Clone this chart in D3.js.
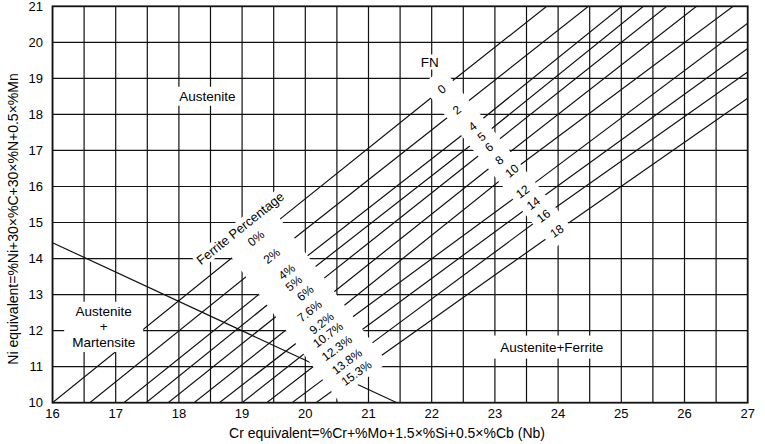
<!DOCTYPE html>
<html>
<head>
<meta charset="utf-8">
<script src="https://cdn.jsdelivr.net/npm/d3@7"></script>
<style>
  html, body { margin: 0; padding: 0; background: #fff; }
  svg { display: block; font-family: "Liberation Sans", Arial, Helvetica, sans-serif; }
</style>
</head>
<body>
<div id="chart"></div>
<script>
const width = 765;
const height = 444;

// axis ticks
const crTicks = d3.range(16, 28);   // Cr equivalent 16..27
const niTicks = d3.range(10, 22);   // Ni equivalent 10..21

// iso-ferrite lines, labelled in FN and in ferrite percentage
const fnLabels = ["0", "2", "4", "5", "6", "8", "10", "12", "14", "16", "18"];
const pctLabels = ["0%", "2%", "4%", "5%", "6%", "7.6%", "9.2%", "10.7%", "12.3%", "13.8%", "15.3%"];

// Cr eq where each line leaves the bottom edge (Ni eq = 10)
const lineStartCr = [16.00, 16.59, 17.13, 17.48, 17.83, 18.24, 18.64, 19.00, 19.39, 19.79, 20.17];
// point on each line where the % label sits
const pctPoints = [[19.22, 14.56], [19.47, 14.07], [19.71, 13.63], [19.82, 13.31], [20.00, 13.04],
  [20.07, 12.54], [20.26, 12.20], [20.36, 11.88], [20.50, 11.51], [20.66, 11.14], [20.81, 10.82]];
// point on each line where the FN label sits
const fnPoints = [[22.16, 18.70], [22.40, 18.12], [22.65, 17.66], [22.79, 17.38], [22.91, 17.09],
  [23.07, 16.73], [23.27, 16.43], [23.44, 15.85], [23.61, 15.53], [23.77, 15.18], [23.98, 14.76]];
// where each line leaves the chart (top or right edge)
const lineEnds = [[23.82, 21], [24.48, 21], [25.01, 21], [25.35, 21], [25.72, 21], [26.19, 21],
  [26.77, 21], [27, 20.53], [27, 19.83], [27, 19.18], [27, 18.45]];

// austenite / austenite+martensite boundary
const martensiteLine = [[16, 14.44], [21.45, 10]];

// phase region labels
const regions = [
  { lines: ["Austenite"], cr: 18.45, ni: 18.51, padX: 3, padY: 3 },
  { lines: ["Austenite", "+", "Martensite"], cr: 16.81, ni: 12.11, padX: 8, padY: 3 },
  { lines: ["Austenite+Ferrite"], cr: 23.90, ni: 11.55, padX: 7, padY: 5 }
];

const svg = d3.select("#chart")
  .append("svg")
  .attr("width", width)
  .attr("height", height);

svg.append("rect").attr("width", width).attr("height", height).attr("fill", "#fff");

const x = d3.scaleLinear().domain([16, 27]).range([52.5, 747.7]);
const y = d3.scaleLinear().domain([10, 21]).range([402.7, 6.3]);

svg.append("clipPath").attr("id", "plot-clip")
  .append("rect")
  .attr("x", x(16)).attr("y", y(21))
  .attr("width", x(27) - x(16)).attr("height", y(10) - y(21));

const plot = svg.append("g").attr("clip-path", "url(#plot-clip)");

// grid
plot.selectAll(".vgrid")
  .data(d3.range(16, 27.01, 0.5))
  .enter().append("line")
  .attr("x1", d => x(d)).attr("x2", d => x(d))
  .attr("y1", y(10)).attr("y2", y(21))
  .attr("stroke", "#111").attr("stroke-width", 1.2);

plot.selectAll(".hgrid")
  .data(niTicks)
  .enter().append("line")
  .attr("x1", x(16)).attr("x2", x(27))
  .attr("y1", d => y(d)).attr("y2", d => y(d))
  .attr("stroke", "#111").attr("stroke-width", 1.2);

// iso-ferrite lines
const line = d3.line().x(d => x(d[0])).y(d => y(d[1]));
const isoLines = fnLabels.map((fn, i) => [[lineStartCr[i], 10], pctPoints[i], fnPoints[i], lineEnds[i]]);

plot.selectAll(".iso")
  .data(isoLines)
  .enter().append("path")
  .attr("d", line)
  .attr("fill", "none")
  .attr("stroke", "#111").attr("stroke-width", 1.2);

plot.append("path")
  .attr("d", line(martensiteLine))
  .attr("fill", "none")
  .attr("stroke", "#111").attr("stroke-width", 1.2);

// white bands that carry the line labels
function band(points, before, after, half) {
  const p0 = [x(points[0][0]), y(points[0][1])];
  const p1 = [x(points[points.length - 1][0]), y(points[points.length - 1][1])];
  const len = Math.hypot(p1[0] - p0[0], p1[1] - p0[1]);
  const u = [(p1[0] - p0[0]) / len, (p1[1] - p0[1]) / len];
  const n = [u[1], -u[0]];
  const a = [p0[0] - u[0] * before, p0[1] - u[1] * before];
  const b = [p1[0] + u[0] * after, p1[1] + u[1] * after];
  return [
    [a[0] + n[0] * half, a[1] + n[1] * half],
    [b[0] + n[0] * half, b[1] + n[1] * half],
    [b[0] - n[0] * half, b[1] - n[1] * half],
    [a[0] - n[0] * half, a[1] - n[1] * half]
  ];
}

plot.append("polygon")
  .attr("points", band(pctPoints, 12, 10, 31).join(" "))
  .attr("fill", "#fff");
plot.append("polygon")
  .attr("points", band(fnPoints, 16, 12, 14).join(" "))
  .attr("fill", "#fff");

// angle of each iso line between its two labels
const angles = isoLines.map(d => {
  const dx = x(d[2][0]) - x(d[1][0]);
  const dy = y(d[2][1]) - y(d[1][1]);
  return Math.atan2(dy, dx) * 180 / Math.PI;
});

const labelFont = 12;

svg.selectAll(".pct")
  .data(pctLabels)
  .enter().append("text")
  .attr("transform", (d, i) => `translate(${x(pctPoints[i][0])},${y(pctPoints[i][1])}) rotate(${angles[i]})`)
  .attr("text-anchor", "middle")
  .attr("dominant-baseline", "central")
  .attr("font-size", labelFont)
  .text(d => d);

svg.selectAll(".fn")
  .data(fnLabels)
  .enter().append("text")
  .attr("transform", (d, i) => `translate(${x(fnPoints[i][0])},${y(fnPoints[i][1])}) rotate(${angles[i]})`)
  .attr("text-anchor", "middle")
  .attr("dominant-baseline", "central")
  .attr("font-size", labelFont)
  .text(d => d);

// label with a white box behind it
function boxedLabel(parent, lines, cx, cy, rot, size, padX, padY) {
  const g = parent.append("g").attr("transform", `translate(${cx},${cy}) rotate(${rot})`);
  const box = g.append("rect").attr("fill", "#fff");
  const lh = size * 1.16;
  const t = g.append("text")
    .attr("text-anchor", "middle")
    .attr("font-size", size);
  lines.forEach((s, k) => {
    t.append("tspan")
      .attr("x", 0)
      .attr("y", (k - (lines.length - 1) / 2) * lh)
      .attr("dy", "0.35em")
      .text(s);
  });
  const bb = t.node().getBBox();
  box.attr("x", bb.x - padX).attr("y", bb.y - padY + 1)
    .attr("width", bb.width + 2 * padX).attr("height", bb.height + 2 * padY - 2);
  return g;
}

boxedLabel(svg, ["Ferrite Percentage"], x(18.97), y(14.84), angles[0], 13, 2, 1);
boxedLabel(svg, ["FN"], x(21.97), y(19.46), 0, 13.5, 2, 1);

regions.forEach(r => boxedLabel(svg, r.lines, x(r.cr), y(r.ni), 0, 13.5, r.padX, r.padY));

// frame
svg.append("rect")
  .attr("x", x(16)).attr("y", y(21))
  .attr("width", x(27) - x(16)).attr("height", y(10) - y(21))
  .attr("fill", "none")
  .attr("stroke", "#111").attr("stroke-width", 1.8);

// tick labels
svg.selectAll(".xtick")
  .data(crTicks)
  .enter().append("text")
  .attr("x", d => x(d)).attr("y", 413)
  .attr("dy", "0.35em")
  .attr("text-anchor", "middle")
  .attr("font-size", 13)
  .text(d => d);

svg.selectAll(".ytick")
  .data(niTicks)
  .enter().append("text")
  .attr("x", 43).attr("y", d => y(d))
  .attr("dy", "0.35em")
  .attr("text-anchor", "end")
  .attr("font-size", 13)
  .text(d => d);

// axis titles
svg.append("text")
  .attr("x", 387).attr("y", 433)
  .attr("dy", "0.35em")
  .attr("text-anchor", "middle")
  .attr("font-size", 14)
  .text("Cr equivalent=%Cr+%Mo+1.5×%Si+0.5×%Cb (Nb)");

svg.append("text")
  .attr("transform", "translate(13,219) rotate(-90)")
  .attr("dy", "0.35em")
  .attr("text-anchor", "middle")
  .attr("font-size", 14)
  .text("Ni equivalent=%Ni+30×%C+30×%N+0.5×%Mn");
</script>
</body>
</html>
